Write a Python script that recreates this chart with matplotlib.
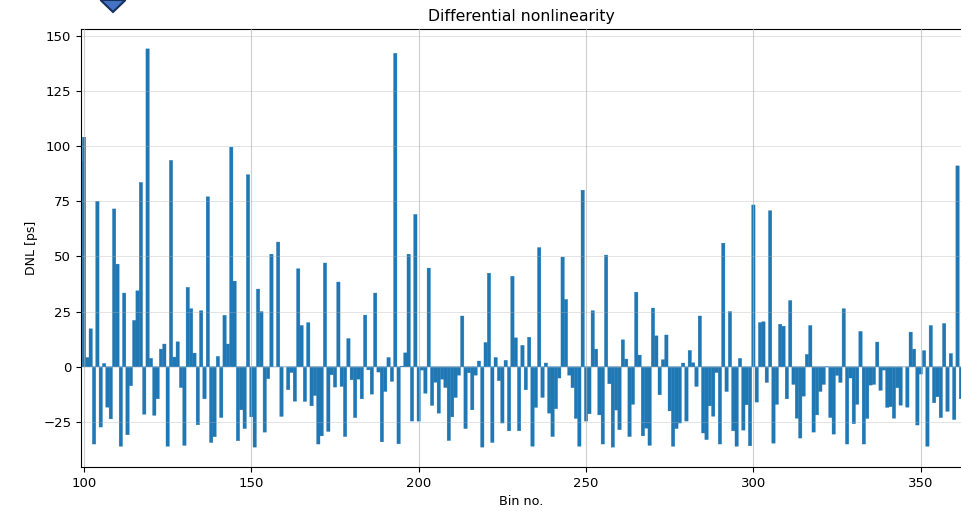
import matplotlib
matplotlib.use('Agg')
import matplotlib.pyplot as plt
from matplotlib.patches import Polygon
import numpy as np

first_bin = 99
# DNL per bin
dnl_99_120 = [93, 104, 4.2, 17.2, -35, 75, -27.3, 1.5, -18.3, -23.6, 71.5, 46.5,
              -36, 33.4, -30.8, -8.6, 21, 34.4, 83.5, -21.5, 144, 3.8]
dnl_121_160 = [-22, -14.5, 8, 10.3, -36, 93.5, 4.4, 11.3, -9.4, -35.6, 36, 26.3,
               6.2, -26.3, 25.4, -14.5, 77, -34.3, -31.7, 4.7, -23, 23.3, 10.3,
               99.5, 38.8, -33.5, -19.5, -28, 87, -22.7, -36.4, 35.2, 25, -29.6,
               -5.4, 51, 0, 56.5, -22.5, 0]
dnl_161_200 = [-10.4, -2.6, -15.6, 44.4, 18.7, -15.7, 20, -17.7, -13, -35, -31.3,
               47, -29.3, -3.6, -9.2, 38.4, -8.9, -31.6, 12.8, -5.9, -23, -5.6,
               -14.5, 23.4, -1.4, -12.4, 33.4, -2.4, -34, -11.2, 4.2, -6.6, 142,
               -34.9, 0.3, 6.3, 51, -24.6, 69, -24.6]
dnl_201_250 = [-1.5, -12, 44.7, -17.5, -7, -21, -5.6, -9.4, -33.4, -22.7, -13.9,
               -3.8, 23, -28, -2.7, -19.5, -3.8, 2.6, -36.4, 11, 42.4, -34.3, 4.2,
               -6.3, -25.5, 2.9, -29, 41, 13.1, -29, 9.7, -10.4, 13.4, -36, -18.4,
               54, -13.9, 1.7, -21, -31.6, -19, -5.1, 49.7, 30.5, -3.8, -9.5,
               -23.4, -36, 80, -24.6]
dnl_251_300 = [-21.3, 25.4, 8, -21.8, -35, 50.6, -7.7, -36.4, -19.6, -28.5, 12.2,
               3.5, -31.6, -17, 33.8, 5.3, -31.3, -27.8, -35.6, 26.6, 14, -12.7,
               3.2, 14.4, -20, -36, -28, -25.5, 1.7, -24.6, 7.4, 1.8, -8.9, 23,
               -30, -33, -17.7, -22.4, -2.6, -35, 56, -11.2, 25, -29, -36, 3.8,
               -28.7, -17.2, -35.8, 73.3]
dnl_301_362 = [-16, 20, 20.4, -7.1, 70.7, -34.6, -17, 19.3, 18.4, -14.5, 30, -8,
               -23.3, -32.3, -13.3, 5.6, 18.7, -29.6, -21.8, -11.2, -8, -0.1, -23,
               -30.5, -3.9, -7.1, 26.3, -35, -5.1, -25.8, -17, 16, -35, -23.4,
               -8.3, -8, 11.2, -10.7, -1.5, -18.4, -18.1, -23.3, -9.5, -17.4, 0,
               -18.3, 15.7, 8, -26.4, -3.3, 7.3, -36, 18.7, -16.3, -13.6, -23,
               19.6, -20.2, 6, -23.9, 91, -14.5]

dnl = dnl_99_120 + dnl_121_160 + dnl_161_200 + dnl_201_250 + dnl_251_300 + dnl_301_362
bins = np.arange(first_bin, first_bin + len(dnl))

W, H = 961, 511
fig = plt.figure(figsize=(W / 100, H / 100), dpi=100)
ax = fig.add_axes([81 / W, 1 - 467 / H, (W - 81) / W, (467 - 29) / H])

# thin edge in the bar colour closes the seams between neighbouring bars
bars = ax.bar(bins, dnl, width=1, color='#1f77b4', edgecolor='#1f77b4', linewidth=0.25)
for b in bars:
    b.set_snap(False)

ax.set_xlim(99.1, 362.03)
ax.set_ylim(-45.4, 153)
ax.set_xticks([100, 150, 200, 250, 300, 350])
ax.set_yticks([-25, 0, 25, 50, 75, 100, 125, 150])
ax.grid(True, axis='x', color='#b0b0b0', linewidth=0.8, alpha=0.6)
ax.grid(True, axis='y', color='#b0b0b0', linewidth=0.7, alpha=0.35)
ax.set_axisbelow(False)
ax.spines['right'].set_visible(False)
ax.tick_params(labelsize=9.5)

ax.set_title('Differential nonlinearity', fontsize=11.3, pad=5.5)
ax.set_ylabel('DNL [ps]', fontsize=9)
ax.set_xlabel('Bin no.', fontsize=9.2)

# bit of a diamond shape cut off by the top of the image
fig.add_artist(Polygon([[100.5 / W, 1.0], [113 / W, 1 - 12 / H], [125.5 / W, 1.0]],
                       closed=True, facecolor='#4472c4', edgecolor='#16305f',
                       linewidth=1.5, transform=fig.transFigure))

plt.savefig('out.png', dpi=100)
